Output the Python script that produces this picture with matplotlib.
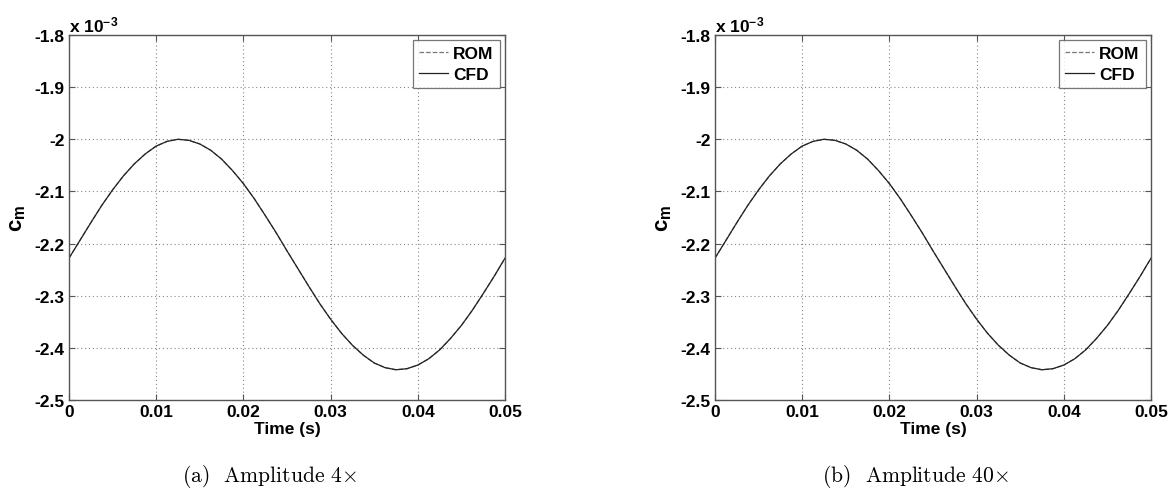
import matplotlib
matplotlib.use("Agg")
import matplotlib.pyplot as plt
from matplotlib.ticker import FuncFormatter

plt.rcParams['font.family'] = ['Liberation Sans', 'DejaVu Sans']
plt.rcParams['axes.unicode_minus'] = False
plt.rcParams['mathtext.fontset'] = 'custom'
plt.rcParams['mathtext.rm'] = 'Liberation Sans:bold'
plt.rcParams['mathtext.bf'] = 'Liberation Sans:bold'
plt.rcParams['mathtext.it'] = 'Liberation Sans:bold'

# time samples (s)
time_s = [i * 0.00125 for i in range(41)]
# c_m values in units of 1e-3
cm_cfd = [-2.228, -2.194, -2.160, -2.127, -2.097, -2.070, -2.047, -2.028, -2.013, -2.004,
          -2.000, -2.002, -2.009, -2.021, -2.038, -2.060, -2.085, -2.114, -2.146, -2.179,
          -2.214, -2.248, -2.282, -2.315, -2.345, -2.372, -2.395, -2.414, -2.429, -2.438,
          -2.442, -2.440, -2.433, -2.421, -2.404, -2.382, -2.357, -2.328, -2.296, -2.263,
          -2.228]
cm_rom = list(cm_cfd)

xticks = [0, 0.01, 0.02, 0.03, 0.04, 0.05]
yticks = [-2.5, -2.4, -2.3, -2.2, -2.1, -2.0, -1.9, -1.8]
captions = [r"(a)  Amplitude 4$\times$", r"(b)  Amplitude 40$\times$"]

W, H = 1171, 489
fig = plt.figure(figsize=(W / 100, H / 100), dpi=100)

lefts_px = [69, 715]
ax_w_px = 436
top_px, bot_px = 36, 401

spine_col = '#555555'
fs = 12.5
for i, lp in enumerate(lefts_px):
    ax = fig.add_axes([lp / W, 1 - bot_px / H, ax_w_px / W, (bot_px - top_px) / H])
    ax.plot(time_s, cm_rom, linestyle='--', color='#777777', lw=0.9, label='ROM')
    ax.plot(time_s, cm_cfd, linestyle='-', color='#222222', lw=0.9, label='CFD')
    ax.set_xlim(0, 0.05)
    ax.set_ylim(-2.5, -1.8)
    ax.set_xticks(xticks)
    ax.set_yticks(yticks)
    fmt = FuncFormatter(lambda v, p: ('%g' % round(v, 4)))
    ax.xaxis.set_major_formatter(fmt)
    ax.yaxis.set_major_formatter(fmt)
    ax.grid(True, linestyle=(0, (1, 2.5)), color='#888888', lw=0.8)
    ax.tick_params(direction='in', length=4, width=0.8, color=spine_col,
                   top=True, right=True, labelsize=fs, pad=3)
    for lab in ax.get_xticklabels() + ax.get_yticklabels():
        lab.set_fontweight('bold')
    for s in ax.spines.values():
        s.set_color(spine_col)
        s.set_linewidth(1.0)
    ax.set_xlabel('Time (s)', fontsize=fs, fontweight='bold', labelpad=1)
    ax.set_ylabel(r'$\mathbf{c_m}$', fontsize=16, labelpad=5)
    ax.text(0.0, 1.003, r'x 10$^{-3}$', transform=ax.transAxes, fontsize=fs,
            fontweight='bold', ha='left', va='bottom')
    leg = ax.legend(loc='upper right', prop={'weight': 'bold', 'size': fs},
                    frameon=True, fancybox=False, borderpad=0.35, labelspacing=0.3,
                    handlelength=1.7, handletextpad=0.3, borderaxespad=0.3)
    leg.get_frame().set_edgecolor(spine_col)
    leg.get_frame().set_linewidth(0.9)
    cx = (lp + ax_w_px * 0.46) / W
    fig.text(cx, 1 - 477 / H, captions[i], fontsize=15.5, family='cmr10',
             math_fontfamily='cm', ha='center', va='center')

fig.savefig('out.png', dpi=100)
